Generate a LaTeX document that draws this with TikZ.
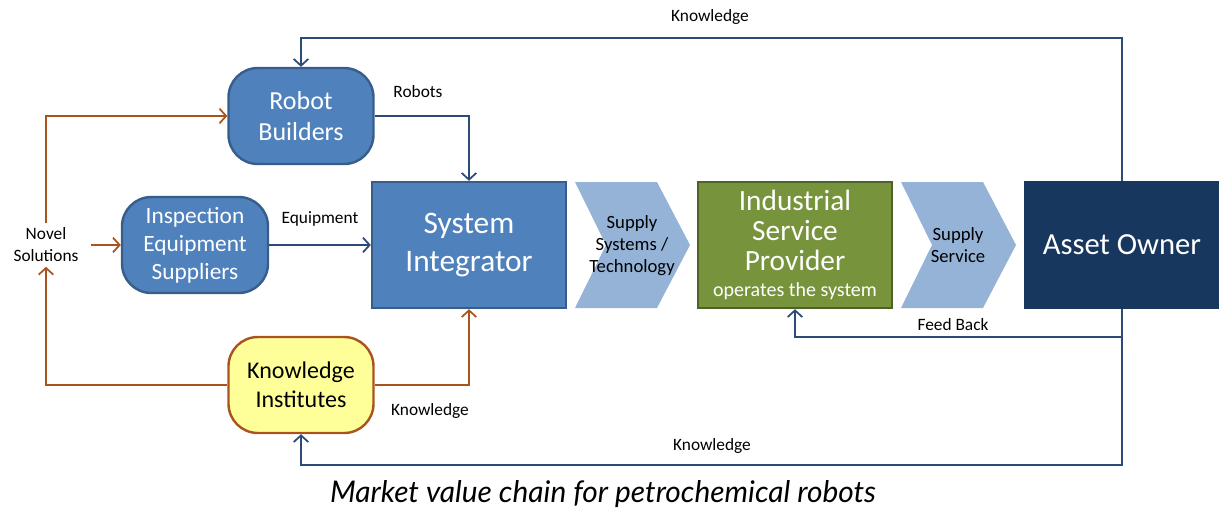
\documentclass[tikz,border=0pt]{standalone}
\usepackage{fontspec}
\setmainfont{Carlito}
\newfontfamily\captionfont{Lato}
\usetikzlibrary{arrows.meta, positioning}
\definecolor{boxblue}{RGB}{79, 129, 189}
\definecolor{edgeblue}{RGB}{56, 93, 138}
\definecolor{chevblue}{RGB}{149, 179, 215}
\definecolor{provgreen}{RGB}{119, 147, 60}
\definecolor{edgegreen}{RGB}{79, 98, 40}
\definecolor{ownernavy}{RGB}{23, 55, 94}
\definecolor{instyellow}{RGB}{255, 255, 153}
\definecolor{linkblue}{RGB}{44, 74, 118}
\definecolor{linkbrown}{RGB}{168, 84, 28}

\begin{document}
\begin{tikzpicture}[
  x=0.75pt, y=-0.75pt,
  actor/.style={draw=edgeblue, line width=1.8pt, fill=boxblue, rounded corners=22pt, minimum width=108.75pt, minimum height=72pt, text=white, align=center, font=\fontsize{19.5}{23}\selectfont},
  stage/.style={draw, line width=1.8pt, minimum width=145.5pt, minimum height=94.5pt, text=white, align=center},
  chevtext/.style={inner sep=0pt, align=center, font=\fontsize{14}{16.5}\selectfont},
  lbl/.style={font=\fontsize{13}{15}\selectfont},
  blueflow/.style={draw=linkblue, line width=1.3pt, -{Straight Barb[length=5pt, width=11pt]}},
  brownflow/.style={draw=linkbrown, line width=1.3pt, -{Straight Barb[length=5pt, width=11pt]}}
]
  \useasboundingbox (0,0) rectangle (1219,511);

  % Suppliers
  \node[actor] (rb) at (301,116) {Robot\\Builders};
  \node[actor, minimum width=109.5pt, font=\fontsize{17.5}{21}\selectfont] (ies) at (195,245) {Inspection\\Equipment\\Suppliers};
  \node[actor, draw=linkbrown, fill=instyellow, text=black, font=\fontsize{18}{22}\selectfont] (ki) at (301,385) {Knowledge\\Institutes};
  \node[font=\fontsize{13}{16.5}\selectfont, align=center] (novel) at (46,245) {Novel\\Solutions};

  % Value chain
  \node[stage, draw=edgeblue, fill=boxblue, font=\fontsize{23.5}{28}\selectfont] (si) at (469,245) {System\\Integrator};
  \fill[chevblue] (575,182) -- (657,182) -- (690,245) -- (657,308) -- (575,308) -- (606,245) -- cycle;
  \node[chevtext] (ch1) at (632,246) {Supply\\Systems /\\Technology};
  \node[stage, draw=edgegreen, fill=provgreen, font=\fontsize{22}{22.5}\selectfont] (isp) at (795,245) {Industrial\\Service\\Provider\\[-3pt]{\fontsize{15}{16}\selectfont operates the system}};
  \fill[chevblue] (901,182) -- (983,182) -- (1016,245) -- (983,308) -- (901,308) -- (932,245) -- cycle;
  \node[chevtext] (ch2) at (958,245) {Supply\\Service};
  \node[stage, draw=ownernavy, fill=ownernavy, font=\fontsize{23}{27}\selectfont] (ao) at (1122,245) {Asset Owner};

  % Flows
  \coordinate (ktop) at (710,38);
  \coordinate (fb) at (953,337);
  \coordinate (kbot) at (712,465);
  \draw[blueflow] (ao.north) |- (ktop) -| (rb.north);
  \draw[blueflow] (rb.east) -| (si.north);
  \draw[blueflow] (ies.east) -- (si.west);
  \draw[brownflow] (ki.east) -| (si.south);
  \draw[blueflow] (ao.south) |- (fb) -| (isp.south);
  \draw[blueflow] (ao.south) |- (kbot) -| (ki.south);
  \draw[brownflow] (novel.north) |- (rb.west);
  \draw[brownflow, shorten <=6pt] (novel.east) -- (ies.west);
  \draw[brownflow] (ki.west) -| (novel.south);

  % Labels
  \node[lbl] (l1) at (710,17) {Knowledge};
  \node[lbl] (l2) at (418,92) {Robots};
  \node[lbl] (l3) at (320,219) {Equipment};
  \node[lbl] (l4) at (430,411) {Knowledge};
  \node[lbl] (l5) at (953,325) {Feed Back};
  \node[lbl] (l6) at (712,446) {Knowledge};

  \node[font=\captionfont\itshape\fontsize{22.4}{26}\selectfont] (cap) at (603,494) {Market value chain for petrochemical robots};
\end{tikzpicture}
\end{document}
